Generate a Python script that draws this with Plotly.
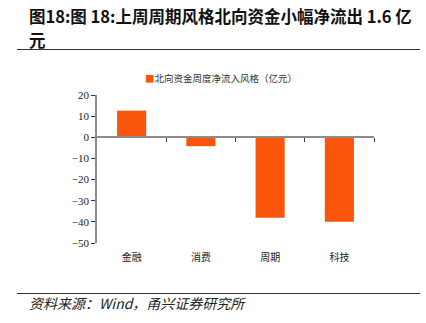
import plotly.graph_objects as go

categories = ["金融", "消费", "周期", "科技"]
values = [12.6, -4.2, -38.1, -39.9]
series_name = "北向资金周度净流入风格（亿元）"
title_line1 = "图18:图 18:上周周期风格北向资金小幅净流出 1.6 亿"
title_line2 = "元"
source_text = "资料来源：Wind，甬兴证券研究所"
y_ticks = [20, 10, 0, -10, -20, -30, -40, -50]
bar_color = "#F9560B"

W, H = 426, 323
L, R, T, B = 97, 52, 95, 80
CJK = "Noto Sans CJK SC"
SERIF = "Liberation Serif"

fig = go.Figure()
fig.add_trace(go.Bar(x=categories, y=values, name=series_name, showlegend=False,
                     marker=dict(color=bar_color, line=dict(width=0)),
                     width=0.42))
# legend entry: small square glyph next to the text, as in the reference
fig.add_trace(go.Scatter(x=[None], y=[None], mode="markers",
                         marker=dict(color="rgba(0,0,0,0)", size=1,
                                     line=dict(width=0, color="rgba(0,0,0,0)")),
                         name="<span style='color:%s'>■</span>%s" % (bar_color, series_name),
                         showlegend=True, hoverinfo="skip"))
fig.add_trace(go.Scatter(x=[0.5], y=[0], xaxis="x2", yaxis="y", mode="markers",
                         marker=dict(color="rgba(0,0,0,0)"), showlegend=False, hoverinfo="skip"))

zero_pos = (0 - (-50)) / 70.0

fig.update_layout(
    width=W, height=H,
    margin=dict(l=L, r=R, t=T, b=B, pad=0),
    plot_bgcolor="white", paper_bgcolor="white",
    showlegend=True,
    legend=dict(orientation="h", x=(105 - L) / (W - L - R), xanchor="left",
                y=1 + (T - 78) / (H - T - B), yanchor="middle",
                font=dict(family=CJK, size=9.5, color="#333"),
                itemwidth=30, bgcolor="rgba(0,0,0,0)"),
    xaxis=dict(type="category", showline=False, ticks="", showgrid=False,
               tickfont=dict(family=CJK, size=10, color="#222"),
               ticklabelstandoff=7),
    xaxis2=dict(overlaying="x", anchor="free", position=zero_pos,
                range=[-0.5, 3.5], showline=True, linecolor="#8c8c8c", linewidth=1.5,
                ticks="outside", ticklen=4, tickcolor="#333", tickwidth=1,
                tickvals=[0.5, 1.5, 2.5, 3.5], showticklabels=False, showgrid=False,
                zeroline=False),
    yaxis=dict(range=[-50, 20], tickvals=y_ticks, showgrid=False, zeroline=False,
               showline=True, linecolor="#8c8c8c", linewidth=1.5,
               ticks="outside", ticklen=4, tickcolor="#333",
               tickfont=dict(family=SERIF, size=11, color="#222")),
    bargap=0.58,
)

def py(px):
    return 1 - (px - T) / (H - T - B)

def pxx(px):
    return (px - L) / (W - L - R)

fig.add_annotation(text="<b>" + title_line1 + "</b>", xref="paper", yref="paper",
                   x=pxx(27), y=py(16), xanchor="left", yanchor="middle",
                   showarrow=False, font=dict(family=CJK, size=16.5, color="#111"))
fig.add_annotation(text="<b>" + title_line2 + "</b>", xref="paper", yref="paper",
                   x=pxx(27), y=py(39.5), xanchor="left", yanchor="middle",
                   showarrow=False, font=dict(family=CJK, size=16.5, color="#111"))
fig.add_annotation(text="<i>" + source_text + "</i>", xref="paper", yref="paper",
                   x=pxx(27), y=py(303), xanchor="left", yanchor="middle",
                   showarrow=False, font=dict(family=CJK, size=14, color="#222"))

for yy in (49.5, 293.5):
    fig.add_shape(type="line", xref="paper", yref="paper",
                  x0=pxx(17), x1=pxx(420), y0=py(yy), y1=py(yy),
                  line=dict(color="#333", width=1))

fig.write_html("out.html")
